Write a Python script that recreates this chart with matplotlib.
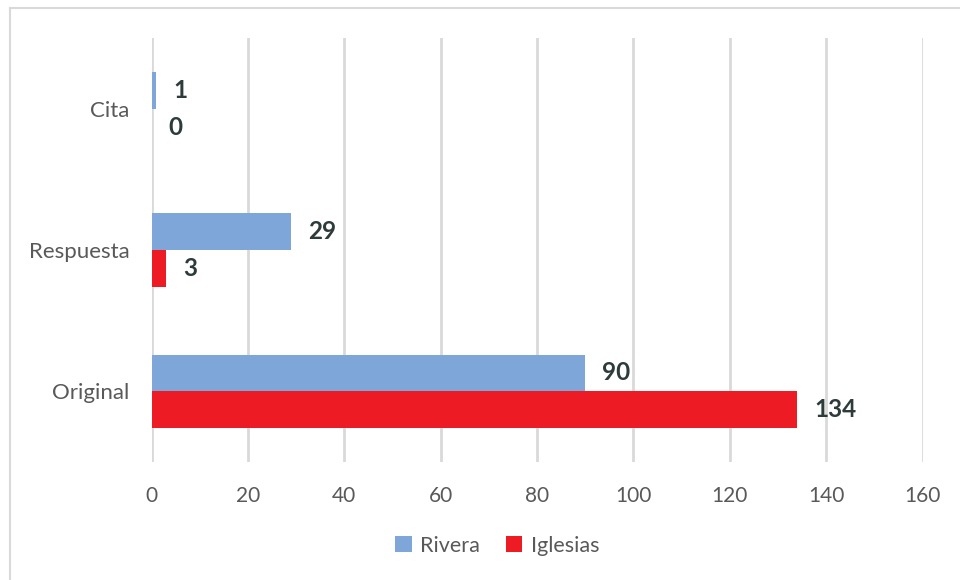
import numpy as np
import matplotlib.pyplot as plt
from matplotlib.lines import Line2D

# Data
categories = ["Original", "Respuesta", "Cita"]
rivera = [90, 29, 1]
iglesias = [134, 3, 0]

blue = "#7FA6D8"
red = "#ED1C24"

plt.rcParams["font.family"] = ["Lato", "DejaVu Sans"]

fig = plt.figure(figsize=(9.6, 5.8), dpi=100)
ax = fig.add_axes([0.158, 0.2034, 0.803, 0.7311])

y = np.arange(len(categories))
h = 0.26
b1 = ax.barh(y + h / 2, rivera, height=h, color=blue, label="Rivera", zorder=3)
b2 = ax.barh(y - h / 2, iglesias, height=h, color=red, label="Iglesias", zorder=3)

for bars, vals in [(b1, rivera), (b2, iglesias)]:
    for bar, v in zip(bars, vals):
        ax.annotate(str(v), (bar.get_width(), bar.get_y() + bar.get_height() / 2),
                    xytext=(12, 0), textcoords="offset points", va="center", ha="left",
                    fontsize=17.5, fontweight="bold", color="#2E3B3B")

ax.set_xlim(0, 160)
ax.set_ylim(-0.5, 2.5)
ax.set_xticks(range(0, 161, 20))
ax.set_yticks(y)
ax.set_yticklabels(categories)
ax.grid(axis="x", color="#D9D9D9", linewidth=2, zorder=0)
for s in ax.spines.values():
    s.set_visible(False)
ax.tick_params(length=0, labelsize=15, colors="#595959")
ax.tick_params(axis="x", pad=17)
ax.tick_params(axis="y", pad=16)
for t in ax.get_yticklabels():
    t.set_fontsize(16)

fig.legend(handles=[b1, b2], labels=["Rivera", "Iglesias"], loc="center",
           bbox_to_anchor=(0.518, 0.059), ncol=2, frameon=False, fontsize=15.5,
           labelcolor="#595959", handlelength=0.75, handleheight=0.75,
           handletextpad=0.4, columnspacing=1.2)

# light frame on left and top
fig.add_artist(Line2D([10 / 960, 10 / 960], [0, 1 - 8 / 580], color="#D9D9D9", lw=1.5))
fig.add_artist(Line2D([10 / 960, 1], [1 - 8 / 580, 1 - 8 / 580], color="#D9D9D9", lw=1.5))

fig.savefig("out.png", dpi=100)
